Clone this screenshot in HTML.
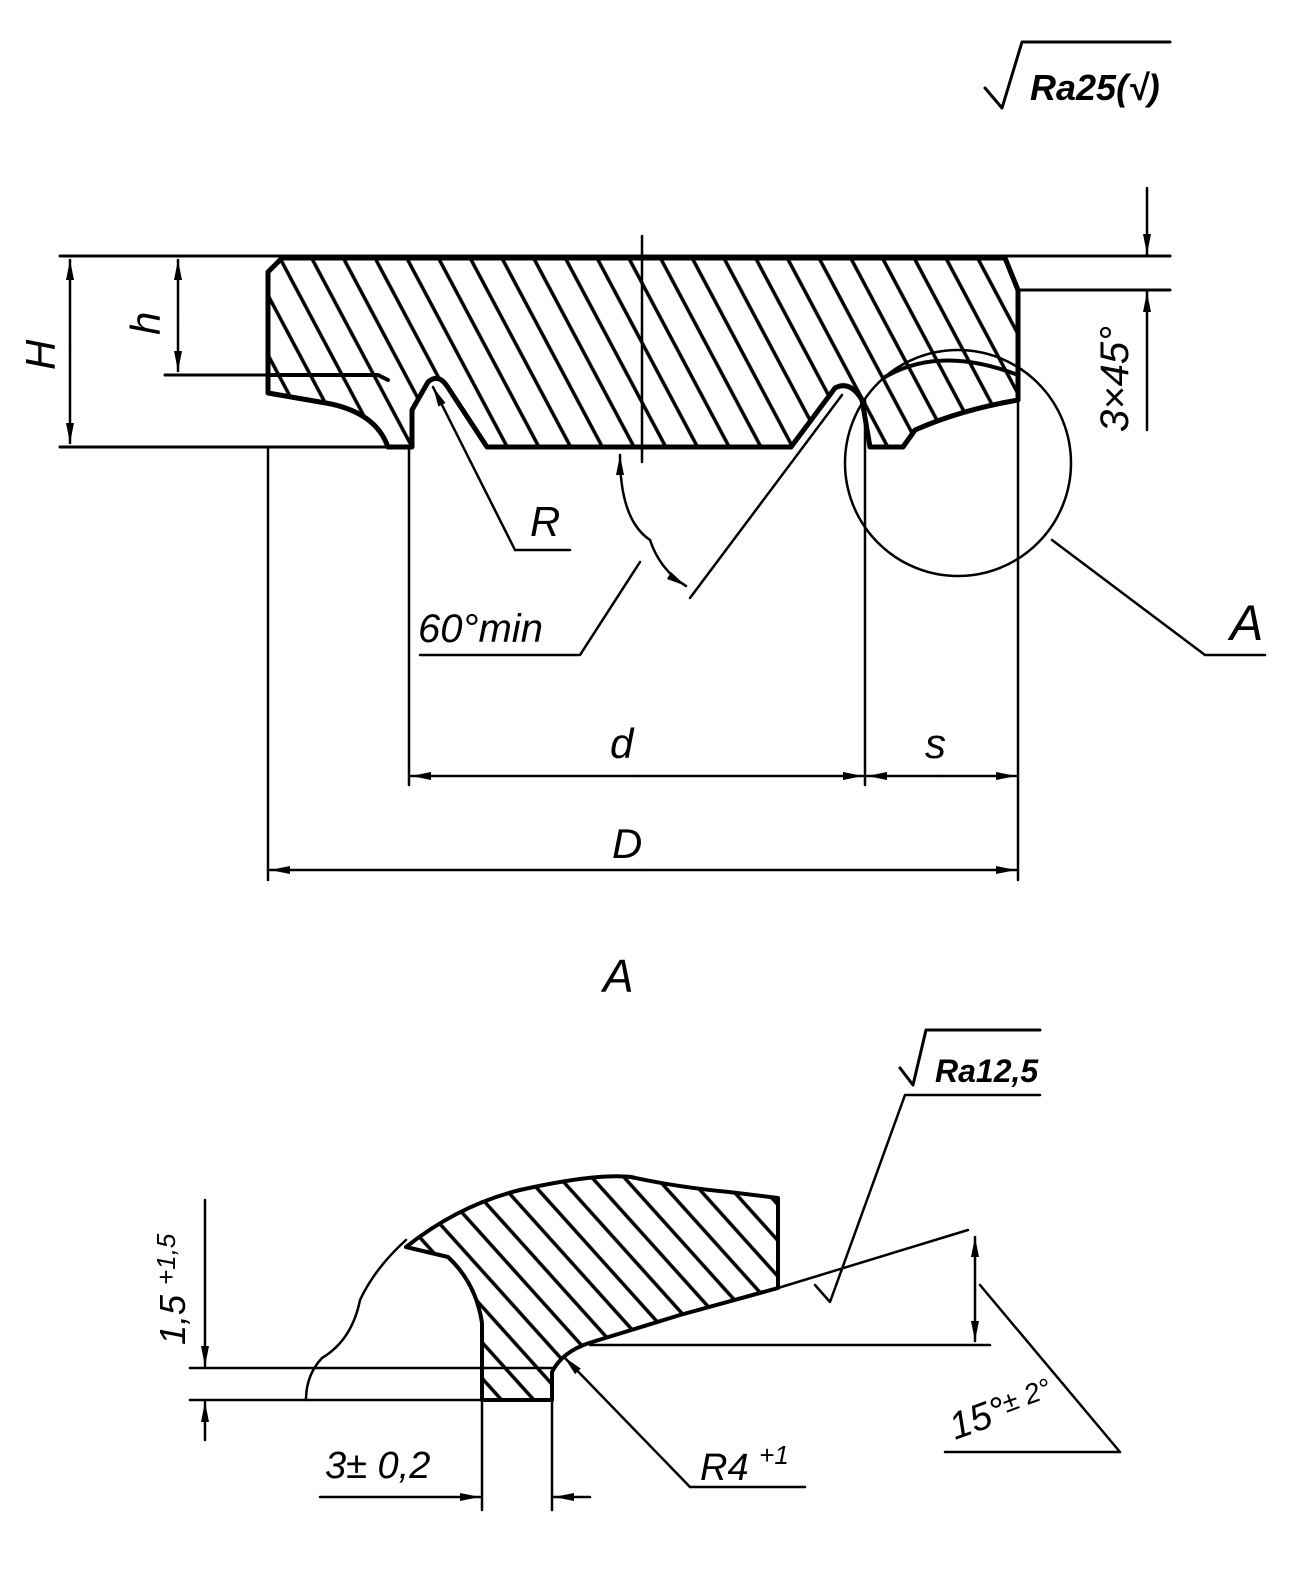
<!DOCTYPE html>
<html><head><meta charset="utf-8"><style>
html,body{margin:0;padding:0;background:#fff}
svg{display:block}
text{font-family:"Liberation Sans",sans-serif;font-style:italic;fill:#000}
</style></head><body>
<svg width="1292" height="1573" viewBox="0 0 1292 1573" xmlns="http://www.w3.org/2000/svg">
<defs>
<pattern id="h1" patternUnits="userSpaceOnUse" width="28" height="28" patternTransform="rotate(-28)">
<line x1="14" y1="0" x2="14" y2="28" stroke="#000" stroke-width="3.5"/></pattern>
<pattern id="h2" patternUnits="userSpaceOnUse" width="24" height="24" patternTransform="rotate(-42)">
<line x1="12" y1="0" x2="12" y2="24" stroke="#000" stroke-width="3.5"/></pattern>
<marker id="ar" viewBox="0 0 20 8" refX="20" refY="4" markerWidth="20" markerHeight="8" orient="auto" markerUnits="userSpaceOnUse">
<path d="M0,0 L20,4 L0,8 Z" fill="#000"/></marker>
</defs>
<g stroke="#000" fill="none" stroke-linecap="round" stroke-linejoin="round" stroke-width="2.5">
<path d="M985,88 L1002,108 L1022,42 L1170,42" stroke-width="3"/>
<path d="M282,258 L1005,258 L1018,290 L1018,400 Q960,410 915,430 L903,447 L870,447 L862,400 Q850,380 835,388 L791,447 L487,447 L447,386 Q438,373 428,382 L412,410 L412,447 L388,447 Q375,410 320,402 L268,393 L268,272 Z" fill="url(#h1)" stroke-width="5"/>
<path d="M268,375 L378,375 L388,380" stroke-width="4"/>
<path d="M885,377 Q940,345 1018,375" stroke-width="4"/>
<path d="M60,256 L1170,256" stroke-width="3"/>
<path d="M60,447 L388,447" stroke-width="3"/>
<path d="M165,375 L268,375" stroke-width="3"/>
<path d="M642,236 L642,462"/>
<path d="M1020,290 L1170,290" stroke-width="3"/>
<path d="M268,447 L268,880 M1018,400 L1018,880 M409,447 L409,785 M865,400 L865,785"/>
<path d="M70,350 L70,260" marker-end="url(#ar)"/>
<path d="M70,350 L70,443" marker-end="url(#ar)"/>
<path d="M178,320 L178,260" marker-end="url(#ar)"/>
<path d="M178,320 L178,371" marker-end="url(#ar)"/>
<path d="M1147,188 L1147,254" marker-end="url(#ar)"/>
<path d="M1147,430 L1147,292" marker-end="url(#ar)"/>
<path d="M637,776 L411,776" marker-end="url(#ar)"/>
<path d="M637,776 L863,776" marker-end="url(#ar)"/>
<path d="M940,776 L867,776" marker-end="url(#ar)"/>
<path d="M940,776 L1016,776" marker-end="url(#ar)"/>
<path d="M643,870 L270,870" marker-end="url(#ar)"/>
<path d="M643,870 L1016,870" marker-end="url(#ar)"/>
<path d="M515,550 L433,387" marker-end="url(#ar)"/>
<path d="M515,550 L570,550"/>
<path d="M690,598 L842,395"/>
<path d="M650,540 Q620,520 620,455" marker-end="url(#ar)"/>
<path d="M650,540 Q660,570 686,586" marker-end="url(#ar)"/>
<path d="M640,562 L580,655 L420,655"/>
<circle cx="958" cy="463" r="113"/>
<path d="M1052,540 L1205,655 L1265,655"/>
<path d="M406,1247 Q459,1205 520,1190 Q596,1173 631,1177 Q676,1187 729,1192 L778,1198 L778,1288 L680,1315 L589,1343 Q562,1352 552,1372 L552,1400 L482,1400 L482,1323 Q476,1283 448,1257 Z" fill="url(#h2)" stroke-width="4"/>
<path d="M406,1240 Q375,1268 360,1300 Q352,1340 322,1358 Q306,1375 306,1400"/>
<path d="M190,1400 L552,1400 M190,1368 L552,1368"/>
<path d="M778,1288 L968,1230"/>
<path d="M590,1345 L990,1345"/>
<path d="M975,1290 L975,1237" marker-end="url(#ar)"/>
<path d="M975,1290 L975,1341" marker-end="url(#ar)"/>
<path d="M980,1285 L1120,1452 L945,1452"/>
<path d="M205,1200 L205,1366" marker-end="url(#ar)"/>
<path d="M205,1440 L205,1402" marker-end="url(#ar)"/>
<path d="M482,1400 L482,1510 M552,1400 L552,1510"/>
<path d="M320,1497 L480,1497" marker-end="url(#ar)"/>
<path d="M590,1497 L554,1497" marker-end="url(#ar)"/>
<path d="M690,1487 L564,1357" marker-end="url(#ar)"/>
<path d="M690,1487 L805,1487"/>
<path d="M815,1285 L830,1302 L905,1095 L1040,1095"/>
<path d="M900,1068 L913,1085 L926,1030 L1040,1030" stroke-width="3"/>
</g>
<g>
<text x="1030" y="100" font-size="36" font-weight="bold">Ra25(√)</text>
<text transform="translate(55,370) rotate(-90)" font-size="42">H</text>
<text transform="translate(160,335) rotate(-90)" font-size="42">h</text>
<text transform="translate(1128,432) rotate(-90)" font-size="40">3×45°</text>
<text x="530" y="536" font-size="42">R</text>
<text x="418" y="642" font-size="40">60°min</text>
<text x="610" y="758" font-size="42">d</text>
<text x="925" y="758" font-size="42">s</text>
<text x="612" y="858" font-size="42">D</text>
<text x="1230" y="640" font-size="50">A</text>
<text x="603" y="992" font-size="46">A</text>
<text x="935" y="1082" font-size="32" font-weight="bold">Ra12,5</text>
<text transform="translate(185,1345) rotate(-90)" font-size="36">1,5 <tspan font-size="26" dy="-10">+1,5</tspan></text>
<text x="325" y="1478" font-size="38">3± 0,2</text>
<text x="700" y="1480" font-size="38">R4 <tspan font-size="26" dy="-16">+1</tspan></text>
<text transform="translate(955,1440) rotate(-20)" font-size="38">15°<tspan font-size="28" dy="-8">± 2°</tspan></text>
</g>
</svg>
</body></html>
